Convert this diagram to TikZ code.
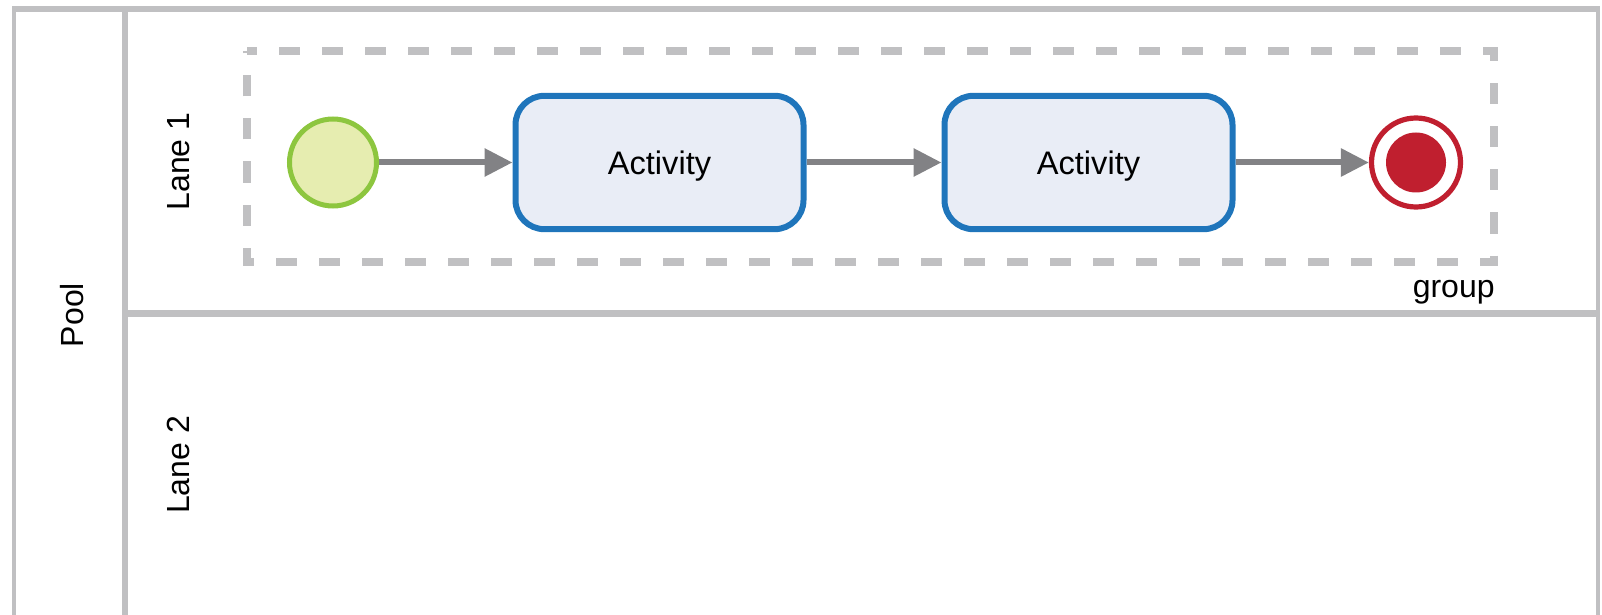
\documentclass[tikz,border=0pt]{standalone}
\usepackage{fontspec}
\setmainfont{Liberation Sans}
\usetikzlibrary{arrows.meta}
\definecolor{poolgray}{RGB}{192,192,194}
\definecolor{arrowgray}{RGB}{130,130,133}
\definecolor{startgreen}{RGB}{141,198,63}
\definecolor{startfill}{RGB}{230,237,176}
\definecolor{actblue}{RGB}{31,117,187}
\definecolor{actfill}{RGB}{233,237,246}
\definecolor{endred}{RGB}{192,31,47}
\tikzset{
  lbl/.style={font=\fontsize{16pt}{19pt}\selectfont, inner sep=0pt},
  startev/.style={circle, draw=startgreen, fill=startfill, line width=2.5pt, minimum size=43.5pt, inner sep=0pt},
  endev/.style={circle, draw=endred, fill=white, line width=2.6pt, minimum size=44.5pt, inner sep=0pt},
  activity/.style={rectangle, rounded corners=14.5pt, draw=actblue, fill=actfill, line width=3pt, minimum width=144pt, minimum height=66.7pt, inner sep=0pt, text height=11.6pt, text depth=0pt, font=\fontsize{16.3pt}{19pt}\selectfont},
  flow/.style={draw=arrowgray, line width=3pt, -{Triangle[length=14pt,width=13.5pt]}},
  groupbox/.style={draw=poolgray, line width=4pt, dash pattern=on 10.5pt off 11pt, dash phase=5.5pt}
}
\begin{document}
\begin{tikzpicture}[x=0.5pt,y=-0.5pt]
\useasboundingbox (0,0) rectangle (1602,615);
% pool and lanes
\draw[poolgray, line width=2pt] (14,9) -- (14,640);
\draw[poolgray, line width=2pt] (1598,9) -- (1598,640);
\draw[poolgray, line width=3pt] (12,9) -- (1600,9);
\draw[poolgray, line width=3pt] (125,9) -- (125,640);
\draw[poolgray, line width=3.5pt] (125,313) -- (1600,313);
\node[lbl, rotate=90] (pool) at (72.5,315) {Pool};
\node[lbl, rotate=90] (lane1) at (178.5,161.5) {Lane 1};
\node[lbl, rotate=90] (lane2) at (178.5,465) {Lane 2};
% group
\path[groupbox] (247,51.5) -- (1494,51.5) -- (1494,262) -- (247,262) -- cycle;
\node[lbl, anchor=base east] (grouplbl) at (1495,297) {group};
% elements
\node[startev] (start) at (333,162.5) {};
\node[activity] (act1) at (659.5,162.5) {Activity};
\node[activity] (act2) at (1088.5,162.5) {Activity};
\node[endev] (end) at (1416,162.5) {};
\node[circle, fill=endred, minimum size=30pt, inner sep=0pt] (endcore) at (end.center) {};
% flows
\draw[flow] (start) -- (act1);
\draw[flow] (act1) -- (act2);
\draw[flow] (act2) -- (end);
\end{tikzpicture}
\end{document}
